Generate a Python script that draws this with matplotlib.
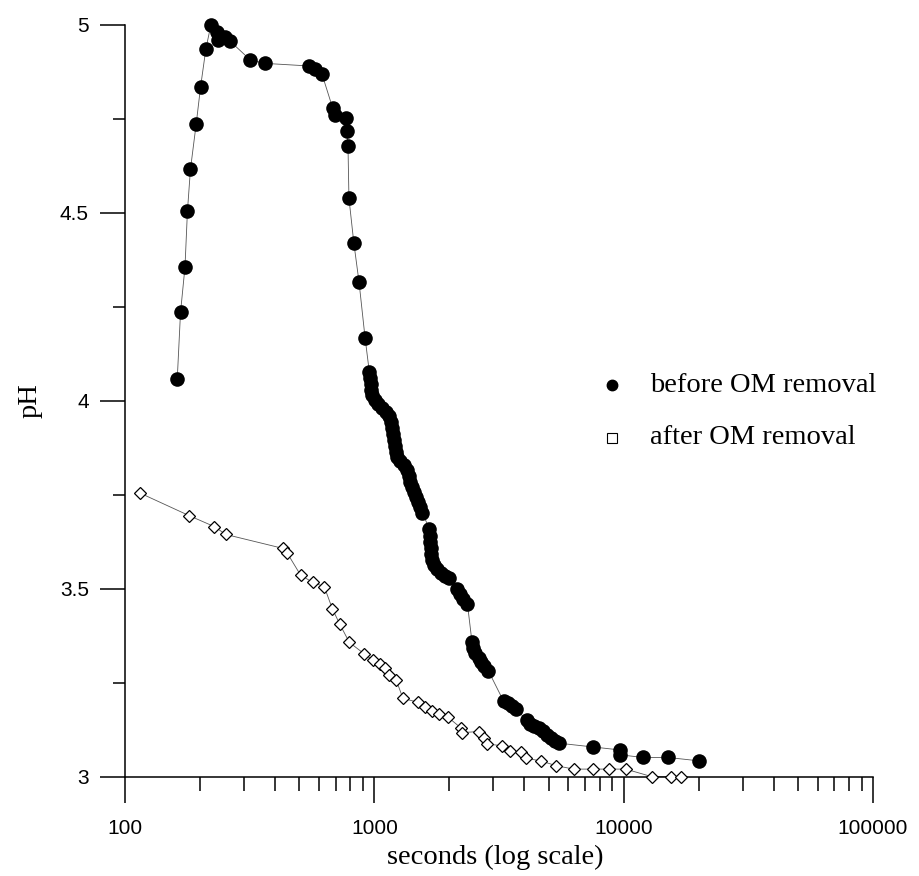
import matplotlib
matplotlib.use("Agg")
import matplotlib.pyplot as plt
from matplotlib.ticker import FixedLocator, LogLocator, NullFormatter

# ---- data ----
before_t = [162, 167, 174, 178, 183, 193, 201, 211, 221, 233, 237, 252, 264,
            318, 363, 548, 580, 617, 680, 697, 769, 777, 784, 791, 828, 868, 918,
            955, 964, 968, 973, 982, 1009, 1038, 1077, 1117, 1148, 1164, 1175,
            1186, 1197, 1209, 1220, 1237, 1271, 1319, 1357, 1376, 1395, 1421,
            1447, 1475, 1502, 1530, 1559,
            1663, 1671, 1678, 1683, 1690, 1710, 1742, 1791, 1858, 1928, 2001,
            2154, 2215, 2277, 2363,
            2464, 2498, 2545, 2617, 2690, 2765, 2869,
            3297, 3421, 3550, 3684,
            4077, 4193, 4350, 4556, 4729, 4908, 5091, 5284, 5483,
            7508, 9638, 9700, 11920, 15020, 20010]
before_ph = [4.058, 4.236, 4.356, 4.505, 4.616, 4.737, 4.836, 4.936, 5.000,
             4.982, 4.960, 4.969, 4.957,
             4.907, 4.898, 4.891, 4.882, 4.869, 4.780, 4.761, 4.752, 4.719,
             4.679, 4.539, 4.419, 4.317, 4.168,
             4.077, 4.061, 4.045, 4.029, 4.016, 4.003, 3.992, 3.981, 3.971,
             3.960, 3.944, 3.928, 3.912, 3.896, 3.880, 3.864, 3.851, 3.840,
             3.830, 3.816, 3.801, 3.785, 3.771, 3.758, 3.745, 3.731, 3.718,
             3.702,
             3.660, 3.641, 3.625, 3.609, 3.593, 3.577, 3.564, 3.553, 3.543,
             3.535, 3.528,
             3.500, 3.487, 3.473, 3.460,
             3.359, 3.343, 3.330, 3.317, 3.306, 3.295, 3.282,
             3.202, 3.196, 3.189, 3.182,
             3.152, 3.141, 3.136, 3.130, 3.122, 3.112, 3.104, 3.096, 3.090,
             3.080, 3.072, 3.059, 3.052, 3.052, 3.043]

after_t = [115, 181, 228, 254, 430, 446, 506, 565, 630, 678, 726, 794, 909,
           988, 1054, 1107, 1145, 1225, 1303, 1493, 1602, 1704, 1811, 1975,
           2229, 2249, 2625, 2749, 2834, 3255, 3493, 3858, 4042, 4642, 5365,
           6310, 7531, 8730, 10186, 12956, 15450, 17050]
after_ph = [3.755, 3.695, 3.666, 3.645, 3.608, 3.597, 3.537, 3.518, 3.506,
            3.448, 3.407, 3.358, 3.328, 3.310, 3.301, 3.289, 3.270, 3.257,
            3.209, 3.199, 3.187, 3.176, 3.168, 3.159, 3.130, 3.118, 3.121,
            3.103, 3.088, 3.083, 3.070, 3.066, 3.050, 3.043, 3.030, 3.021,
            3.021, 3.021, 3.021, 3.001, 3.001, 3.001]

x_ticks = [100, 1000, 10000, 100000]
x_tick_labels = ["100", "1000", "10000", "100000"]
y_ticks = [3, 3.5, 4, 4.5, 5]
y_tick_labels = ["3", "3.5", "4", "4.5", "5"]
y_minor = [3.25, 3.75, 4.25, 4.75]

legend_labels = ["before OM removal", "after OM removal"]
x_label = "seconds (log scale)"
y_label = "pH"

serif = ["Liberation Serif", "DejaVu Serif"]
sans = ["Liberation Sans", "DejaVu Sans"]

fig = plt.figure(figsize=(9.19, 8.76), dpi=100)
ax = fig.add_axes([125 / 919, 1 - 777 / 876, (873 - 125) / 919, (777 - 25) / 876])

ax.plot(after_t, after_ph, color="#555555", lw=0.6, zorder=2, clip_on=False)
ax.plot(after_t, after_ph, ls="none", marker="D", ms=6.0, mfc="white",
        mec="black", mew=0.9, zorder=3, clip_on=False)
ax.plot(before_t, before_ph, color="#555555", lw=0.6, zorder=4, clip_on=False)
ax.plot(before_t, before_ph, ls="none", marker="o", ms=10.5, mfc="black",
        mec="black", mew=0, zorder=5, clip_on=False)

ax.set_xscale("log")
ax.set_xlim(100, 100000)
ax.set_ylim(3, 5)

ax.xaxis.set_major_locator(FixedLocator(x_ticks))
ax.set_xticklabels(x_tick_labels)
ax.xaxis.set_minor_locator(LogLocator(base=10, subs=range(2, 10)))
ax.xaxis.set_minor_formatter(NullFormatter())
ax.yaxis.set_major_locator(FixedLocator(y_ticks))
ax.set_yticklabels(y_tick_labels)
ax.yaxis.set_minor_locator(FixedLocator(y_minor))

for side in ["top", "right"]:
    ax.spines[side].set_visible(False)
for side in ["left", "bottom"]:
    ax.spines[side].set_linewidth(1.1)

ax.tick_params(axis="x", which="major", direction="out", length=19, width=1.1,
               pad=11, labelsize=15)
ax.tick_params(axis="x", which="minor", direction="out", length=10, width=1.1)
ax.tick_params(axis="y", which="major", direction="out", length=18, width=1.1,
               pad=8, labelsize=15)
ax.tick_params(axis="y", which="minor", direction="out", length=9, width=1.1)
for lab in ax.get_xticklabels() + ax.get_yticklabels():
    lab.set_family(sans)

fig.text(495 / 919, 1 - 857 / 876, x_label, family=serif, fontsize=20.5,
         ha="center", va="center")
fig.text(30 / 919, 1 - 401 / 876, y_label, family=serif, fontsize=20.5,
         ha="center", va="center", rotation=90)

# legend drawn manually
legend_y = [385, 438]
fig.lines.append(plt.Line2D([612 / 919], [1 - legend_y[0] / 876], ls="none",
                            marker="o", ms=7.5, mfc="black", mec="black",
                            transform=fig.transFigure))
fig.lines.append(plt.Line2D([612 / 919], [1 - legend_y[1] / 876], ls="none",
                            marker="s", ms=6.5, mfc="white", mec="black", mew=0.8,
                            transform=fig.transFigure))
for lab, yy in zip(legend_labels, legend_y):
    fig.text(650 / 919, 1 - yy / 876, lab, family=serif, fontsize=20.5,
             ha="left", va="center")

fig.savefig("out.png", dpi=100)
